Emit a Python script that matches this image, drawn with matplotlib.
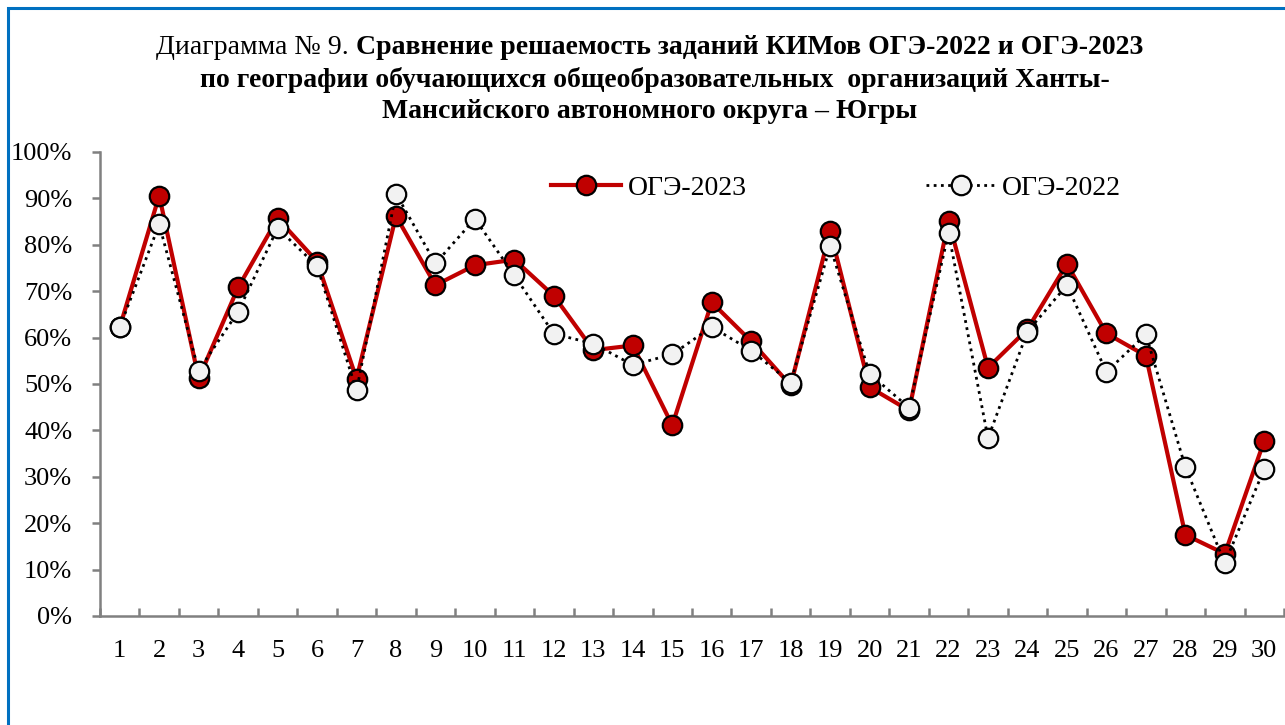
import numpy as np
import matplotlib
matplotlib.use("Agg")
from matplotlib import pyplot
from matplotlib.patches import Rectangle
from matplotlib.ticker import FixedLocator, PercentFormatter

# data (share of correct answers, %)
tasks = list(range(1, 31))
oge_2023 = [62.2, 90.6, 51.2, 70.8, 85.7, 76.4, 51.1, 86.2, 71.3, 75.6,
            76.8, 69.0, 57.3, 58.3, 41.1, 67.6, 59.2, 49.7, 83.0, 49.3,
            44.3, 85.2, 53.5, 61.8, 75.9, 60.9, 56.1, 17.5, 13.4, 37.8]
oge_2022 = [62.2, 84.4, 52.9, 65.6, 83.6, 75.4, 48.6, 91.0, 76.0, 85.6,
            73.4, 60.8, 58.7, 54.1, 56.4, 62.3, 57.2, 50.3, 79.7, 52.2,
            44.9, 82.6, 38.3, 61.3, 71.3, 52.6, 60.7, 32.1, 11.4, 31.7]
labels = ["ОГЭ-2023", "ОГЭ-2022"]

title_regular = "Диаграмма № 9. "
title_bold = "Сравнение решаемость заданий КИМов ОГЭ-2022 и ОГЭ-2023"
title_lines = ["по географии обучающихся общеобразовательных  организаций Ханты-",
               "Мансийского автономного округа – Югры"]

pyplot.rcParams["font.family"] = ["Liberation Serif", "DejaVu Serif"]

fig = pyplot.figure(figsize=(12.85, 7.25), dpi=100)
ax = fig.add_axes([100 / 1285, 109 / 725, 1184 / 1285, 464 / 725])

# blue frame
fig.patches.append(Rectangle((7.5 / 1285, -0.1), 1.2, (725 - 8.5) / 725 + 0.1,
                             transform=fig.transFigure, fill=False,
                             ec="#0070C0", lw=2.2, zorder=0))

x = np.array(tasks)
ax.plot(x, oge_2023, color="#C00000", lw=3, marker="o", ms=14,
        mfc="#C00000", mec="black", mew=1.6, label=labels[0], zorder=3)
ax.plot(x, oge_2022, color="black", lw=2, ls=(0, (1, 1.6)), marker="o", ms=14,
        mfc="#F2F2F2", mec="black", mew=1.6, label=labels[1], zorder=4)

ax.set_xlim(0.5, 30.5)
ax.set_ylim(0, 100)
for side in ["top", "right"]:
    ax.spines[side].set_visible(False)
for side in ["left", "bottom"]:
    ax.spines[side].set_color("#808080")
    ax.spines[side].set_linewidth(1.8)

ax.set_yticks(np.arange(0, 101, 10))
ax.yaxis.set_major_formatter(PercentFormatter(decimals=0))
ax.tick_params(axis="y", direction="out", length=6, width=1.8, color="#808080",
               pad=14, labelsize=19)
ax.set_xticks(x)
ax.set_xticklabels([str(t) for t in tasks])
ax.tick_params(axis="x", which="major", length=0, pad=17, labelsize=19)
ax.xaxis.set_minor_locator(FixedLocator(np.arange(0.5, 31, 1)))
ax.tick_params(axis="x", which="minor", direction="in", length=6, width=1.8,
               color="#808080")
ax.set_facecolor("none")

leg = ax.legend(ncol=2, loc="upper left", bbox_to_anchor=(0.36, 1.003),
                frameon=False, fontsize=20, handlelength=2.5,
                handletextpad=0.25, columnspacing=6.45)

# title: regular prefix + bold rest on first line
fs = 20
renderer = fig.canvas.get_renderer()
t1 = fig.text(0, 0, title_regular, fontsize=fs)
t2 = fig.text(0, 0, title_bold, fontsize=fs, fontweight="bold")
w1 = t1.get_window_extent(renderer).width
w2 = t2.get_window_extent(renderer).width
x0 = 650 - (w1 + w2) / 2
t1.set_position((x0 / 1285, 1 - 47 / 725))
t2.set_position(((x0 + w1) / 1285, 1 - 47 / 725))
t1.set_va("center")
t2.set_va("center")
fig.text(655 / 1285, 1 - 80 / 725, title_lines[0], fontsize=fs,
         fontweight="bold", ha="center", va="center")
fig.text(650 / 1285, 1 - 112 / 725, title_lines[1], fontsize=fs,
         fontweight="bold", ha="center", va="center")

fig.savefig("out.png", dpi=100)
